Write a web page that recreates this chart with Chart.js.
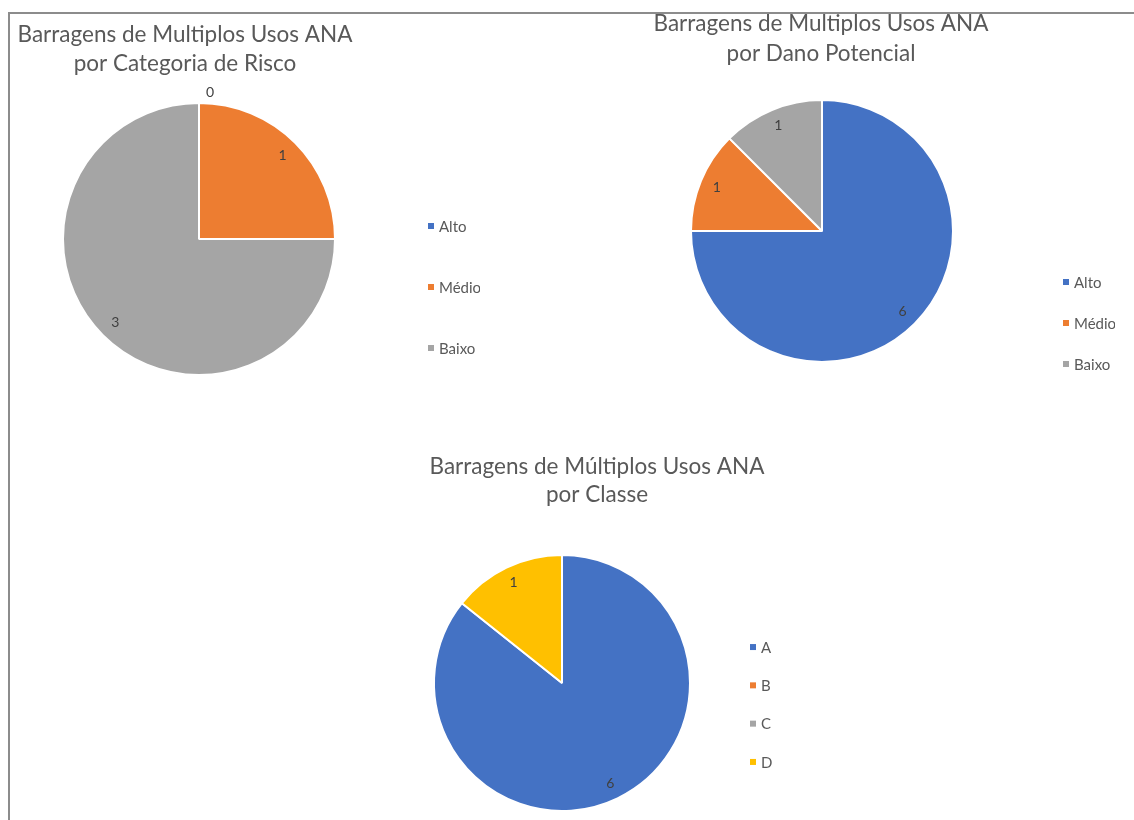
<!DOCTYPE html>
<html><head><meta charset="utf-8">
<script src="https://cdn.jsdelivr.net/npm/chart.js@4.4.1/dist/chart.umd.min.js"></script>
<style>
html,body{margin:0;padding:0;background:#fff;overflow:hidden;width:1134px;height:820px;position:relative;}
#frame{position:absolute;left:8px;top:12px;width:1140px;height:830px;border-top:2px solid #8c8c8c;border-left:2px solid #8c8c8c;}
canvas{position:absolute;}
</style></head><body>
<div id="frame"></div>
<canvas id="c1" width="590" height="390" style="left:-110px;top:14px"></canvas>
<canvas id="c2" width="588" height="400" style="left:527px;top:3px"></canvas>
<canvas id="c3" width="386" height="420" style="left:404px;top:446px"></canvas>
<script>
// ---- data ----
const riskLabels = ['Alto', 'Médio', 'Baixo'];
const riskValues = [0, 1, 3];
const damageLabels = ['Alto', 'Médio', 'Baixo'];
const damageValues = [6, 1, 1];
const classLabels = ['A', 'B', 'C', 'D'];
const classValues = [6, 0, 0, 1];
const riskTitle = ['Barragens de Multiplos Usos ANA', 'por Categoria de Risco'];
const damageTitle = ['Barragens de Multiplos Usos ANA', 'por Dano Potencial'];
const classTitle = ['Barragens de Múltiplos Usos ANA', 'por Classe'];
const palette = ['#4472C4', '#ED7D31', '#A5A5A5', '#FFC000'];

const FONT = 'Lato, "Open Sans", sans-serif';

// centred multi-line chart title
const chartTitle = {
  id: 'chartTitle',
  afterDraw(chart, args, opts) {
    const ctx = chart.ctx;
    ctx.save();
    ctx.font = '22.5px ' + FONT;
    ctx.fillStyle = '#595959';
    ctx.textAlign = 'center';
    ctx.textBaseline = 'alphabetic';
    opts.lines.forEach((t, i) => ctx.fillText(t, opts.cx, opts.baseline + i * opts.lineGap));
    ctx.restore();
  }
};

const sliceLabels = {
  id: 'sliceLabels',
  afterDatasetsDraw(chart, args, opts) {
    const ctx = chart.ctx;
    const meta = chart.getDatasetMeta(0);
    const vals = chart.data.datasets[0].data;
    ctx.save();
    ctx.font = '14px ' + FONT;
    ctx.fillStyle = '#404040';
    ctx.textAlign = 'center';
    ctx.textBaseline = 'middle';
    meta.data.forEach((arc, i) => {
      const v = vals[i];
      if (v === 0 && !opts.showZero) return;
      const mid = (arc.startAngle + arc.endAngle) / 2;
      const r = v === 0 ? arc.outerRadius + opts.zeroGap : arc.outerRadius * opts.ratio;
      let x = arc.x + Math.cos(mid) * r;
      const y = arc.y + Math.sin(mid) * r;
      if (v === 0) x += opts.zeroShift;
      ctx.fillText(String(v), x, y);
    });
    ctx.restore();
  }
};

const sideLegend = {
  id: 'sideLegend',
  afterDraw(chart, args, opts) {
    const ctx = chart.ctx;
    const labels = chart.data.labels;
    const cols = chart.data.datasets[0].backgroundColor;
    const n = labels.length;
    const y0 = opts.cy - opts.gap * (n - 1) / 2;
    ctx.save();
    ctx.font = '15px ' + FONT;
    ctx.textBaseline = 'middle';
    ctx.textAlign = 'left';
    labels.forEach((l, i) => {
      const y = y0 + i * opts.gap;
      ctx.fillStyle = cols[i];
      ctx.fillRect(opts.x, y - 3, 6, 6);
      ctx.fillStyle = '#595959';
      ctx.fillText(l, opts.x + 11, y + 1);
    });
    ctx.restore();
  }
};

function makePie(id, labels, values, title, radius, pad, titlePos, legend, showZero) {
  new Chart(document.getElementById(id), {
    type: 'pie',
    data: {
      labels: labels,
      datasets: [{
        data: values,
        backgroundColor: palette.slice(0, labels.length),
        borderColor: '#ffffff',
        borderWidth: 2
      }]
    },
    options: {
      responsive: false,
      animation: false,
      events: [],
      radius: radius,
      layout: { padding: pad },
      plugins: {
        legend: { display: false },
        tooltip: { enabled: false },
        title: { display: false },
        chartTitle: Object.assign({ lines: title, lineGap: 29, baseline: 28 }, titlePos),
        sliceLabels: { ratio: 0.87, showZero: showZero, zeroGap: 11, zeroShift: 11 },
        sideLegend: legend
      }
    },
    plugins: [chartTitle, sliceLabels, sideLegend]
  });
}

makePie('c1', riskLabels, riskValues, riskTitle, 136,
  { left: 150, right: 122, top: 65, bottom: 5 },
  { cx: 295 },
  { x: 538, cy: 273, gap: 61 }, true);
makePie('c2', damageLabels, damageValues, damageTitle, 131,
  { left: 100, right: 98, top: 65, bottom: 9 },
  { cx: 294, lineGap: 30 },
  { x: 536, cy: 320, gap: 41 }, true);
makePie('c3', classLabels, classValues, classTitle, 128,
  { left: 20, right: 90, top: 65, bottom: 11 },
  { cx: 193, lineGap: 28 },
  { x: 346, cy: 258.5, gap: 38.3 }, false);
</script>
</body></html>
